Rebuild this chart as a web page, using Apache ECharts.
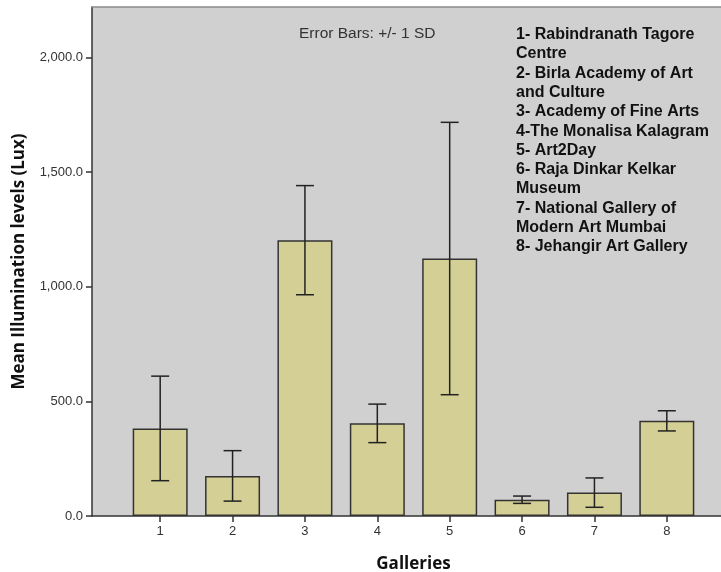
<!DOCTYPE html>
<html>
<head>
<meta charset="utf-8">
<script src="https://cdn.jsdelivr.net/npm/echarts@6/dist/echarts.min.js"></script>
<style>
  html, body { margin: 0; padding: 0; background: #ffffff; }
  #chart { width: 721px; height: 572px; }
</style>
</head>
<body>
<div id="chart"></div>
<script>
// Mean illumination per gallery, with ±1 SD error bars
const galleries = ['1', '2', '3', '4', '5', '6', '7', '8'];
const meanLux = [382, 175, 1203, 404, 1123, 71, 102, 415];
const sdLux = [228, 110, 238, 84, 594, 16, 64, 44];
const yTicks = [0, 500, 1000, 1500, 2000];
const galleryNames = [
  '1- Rabindranath Tagore',
  'Centre',
  '2- Birla Academy of Art',
  'and Culture',
  '3- Academy of Fine Arts',
  '4-The Monalisa Kalagram',
  '5- Art2Day',
  '6- Raja Dinkar Kelkar',
  'Museum',
  '7- National Gallery of',
  'Modern Art Mumbai',
  '8- Jehangir Art Gallery'
];

const Y_MAX = 2220;
const FONT = '"Liberation Sans", Arial, sans-serif';
const TITLE_FONT = '"Open Sans", ' + FONT;

const errorData = meanLux.map((m, i) => [i, m - sdLux[i], m + sdLux[i]]);

const chart = echarts.init(document.getElementById('chart'), null, { renderer: 'canvas' });

chart.setOption({
  animation: false,
  backgroundColor: '#ffffff',
  grid: [
    // full plot frame with the gray panel and the value axis
    { left: 92, right: 0, top: 7, bottom: 56, show: true, backgroundColor: '#d0d0d0', borderWidth: 0,
      containLabel: false, outerBoundsMode: 'none' },
    // band used for the bars, inset from the frame
    { left: 124, right: 18, top: 7, bottom: 56, containLabel: false, outerBoundsMode: 'none' }
  ],
  xAxis: [
    {
      gridIndex: 0, type: 'value', min: 0, max: 1,
      axisLine: { show: true, onZero: false, lineStyle: { color: '#333333', width: 1.5 } },
      axisTick: { show: false }, axisLabel: { show: false }, splitLine: { show: false }
    },
    {
      gridIndex: 1, type: 'category', data: galleries,
      axisLine: { show: false },
      axisTick: { show: true, alignWithLabel: true, length: 6, lineStyle: { color: '#333333', width: 1.5 } },
      axisLabel: { color: '#333333', fontFamily: FONT, fontSize: 13, margin: 9 },
      name: 'Galleries', nameLocation: 'middle', nameGap: 40,
      nameTextStyle: { fontFamily: TITLE_FONT, fontWeight: 'bold', fontSize: 17, color: '#111111' },
      splitLine: { show: false }
    },
    {
      gridIndex: 0, type: 'value', min: 0, max: 1, position: 'top',
      axisLine: { show: true, onZero: false, lineStyle: { color: '#8a8a8a', width: 1.5 } },
      axisTick: { show: false }, axisLabel: { show: false }, splitLine: { show: false }
    }
  ],
  yAxis: [
    {
      gridIndex: 0, type: 'value', min: 0, max: Y_MAX, interval: 500,
      axisLine: { show: true, lineStyle: { color: '#333333', width: 1.5 } },
      axisTick: { show: true, length: 6, lineStyle: { color: '#333333', width: 1.5 } },
      axisLabel: {
        color: '#333333', fontFamily: FONT, fontSize: 13, margin: 9,
        showMaxLabel: false,
        formatter: v => yTicks.includes(v) ? v.toLocaleString('en-US', { minimumFractionDigits: 1, maximumFractionDigits: 1 }) : ''
      },
      splitLine: { show: false },
      name: 'Mean Illumination levels (Lux)', nameLocation: 'middle', nameGap: 64,
      nameTextStyle: { fontFamily: TITLE_FONT, fontWeight: 'bold', fontSize: 17, color: '#111111' }
    },
    {
      gridIndex: 1, type: 'value', min: 0, max: Y_MAX, show: false
    }
  ],
  series: [
    {
      type: 'bar', xAxisIndex: 1, yAxisIndex: 1,
      data: meanLux, barWidth: 55,
      itemStyle: { color: '#d4cf95', borderColor: '#333333', borderWidth: 1.5 },
      z: 2
    },
    {
      type: 'custom', xAxisIndex: 1, yAxisIndex: 1,
      data: errorData, z: 3,
      renderItem: function (params, api) {
        const x = api.value(0);
        const lo = api.coord([x, api.value(1)]);
        const hi = api.coord([x, api.value(2)]);
        const half = 9;
        const style = { stroke: '#222222', lineWidth: 1.5 };
        return {
          type: 'group',
          children: [
            { type: 'line', shape: { x1: hi[0], y1: hi[1], x2: lo[0], y2: lo[1] }, style: style },
            { type: 'line', shape: { x1: hi[0] - half, y1: hi[1], x2: hi[0] + half, y2: hi[1] }, style: style },
            { type: 'line', shape: { x1: lo[0] - half, y1: lo[1], x2: lo[0] + half, y2: lo[1] }, style: style }
          ]
        };
      }
    }
  ],
  graphic: [
    {
      type: 'text', left: 299, top: 26, z: 10,
      style: { text: 'Error Bars: +/- 1 SD', font: '15.5px ' + FONT, fill: '#333333' }
    },
    {
      type: 'text', left: 516, top: 25, z: 10,
      style: {
        text: galleryNames.join('\n'),
        font: 'bold 16px ' + FONT, fill: '#111111', lineHeight: 19.3
      }
    }
  ]
});
</script>
</body>
</html>
